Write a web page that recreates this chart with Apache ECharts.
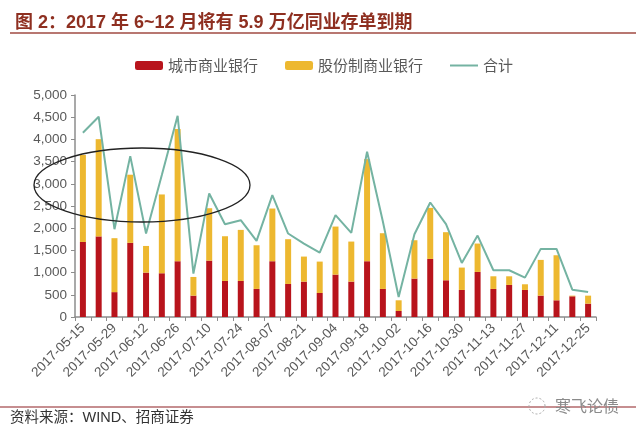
<!DOCTYPE html>
<html>
<head>
<meta charset="utf-8">
<script src="https://cdn.jsdelivr.net/npm/echarts@6/dist/echarts.min.js"></script>
<style>
html,body{margin:0;padding:0;background:#fff;}
#c{width:640px;height:433px;}
</style>
</head>
<body>
<div id="c"></div>
<script>
var categories = ['2017-05-15','2017-05-22','2017-05-29','2017-06-05','2017-06-12','2017-06-19','2017-06-26','2017-07-03','2017-07-10','2017-07-17','2017-07-24','2017-07-31','2017-08-07','2017-08-14','2017-08-21','2017-08-28','2017-09-04','2017-09-11','2017-09-18','2017-09-25','2017-10-02','2017-10-09','2017-10-16','2017-10-23','2017-10-30','2017-11-06','2017-11-13','2017-11-20','2017-11-27','2017-12-04','2017-12-11','2017-12-18','2017-12-25'];
var cityBanks = [1690,1815,560,1670,1000,985,1256,481,1270,812,812,632,1256,744,797,541,955,797,1256,632,135,865,1308,827,609,1015,632,722,609,481,376,466,301];
var jointStock = [1960,2190,1215,1535,600,1775,2977,421,1180,1007,1150,984,1187,1008,564,707,1082,902,2300,1255,241,864,1150,1083,504,639,285,195,128,805,1015,15,180];
var totals = [4150,4510,1977,3624,1880,3200,4533,977,2782,2090,2180,1714,2744,1880,1654,1451,2293,1895,3721,2150,451,1865,2579,2090,1218,1834,1053,1053,887,1534,1534,616,564];
var yTicks = [0,500,1000,1500,2000,2500,3000,3500,4000,4500,5000];

var chart = echarts.init(document.getElementById('c'), null, {renderer:'canvas'});
var gray = '#595959';
var cjk = 'Liberation Sans, "Noto Sans CJK SC", sans-serif';
chart.setOption({
  animation:false,
  backgroundColor:'#fff',
  title:{
    text:'图 2：2017 年 6~12 月将有 5.9 万亿同业存单到期',
    left:10, top:9,
    textStyle:{color:'#8E2F20', fontSize:18, fontWeight:'bold', fontFamily:cjk}
  },
  legend:{
    left:130, top:53,
    itemWidth:28, itemHeight:9, itemGap:27,
    textStyle:{color:gray, fontSize:15, fontFamily:'"Noto Sans CJK SC", sans-serif'},
    data:[{name:'城市商业银行'},{name:'股份制商业银行'},{name:'合计', icon:'path://M0,0L28,0L28,2L0,2Z'}]
  },
  grid:{left:75, right:44, top:95, bottom:116},
  xAxis:{
    type:'category',
    data:categories,
    boundaryGap:true,
    axisLine:{lineStyle:{color:'#8c8c8c', width:1.5}},
    axisTick:{show:true, interval:0, length:4, lineStyle:{color:'#8c8c8c'}},
    axisLabel:{interval:1, rotate:45, color:gray, fontSize:13.5, fontFamily:'Liberation Sans, Arial, sans-serif', margin:9}
  },
  yAxis:{
    type:'value',
    min:0, max:5000, interval:500,
    axisLine:{show:true, lineStyle:{color:'#8c8c8c', width:1.5}},
    axisTick:{show:true, length:4, lineStyle:{color:'#8c8c8c'}},
    splitLine:{show:false},
    axisLabel:{color:gray, fontSize:13.5, fontFamily:'Liberation Sans, Arial, sans-serif', margin:8,
      formatter:function(v){return v.toLocaleString('en-US');}}
  },
  series:[
    {name:'城市商业银行', type:'bar', stack:'s', data:cityBanks, barWidth:6, itemStyle:{color:'#B8141C'}},
    {name:'股份制商业银行', type:'bar', stack:'s', data:jointStock, barWidth:6, itemStyle:{color:'#EDB830'}},
    {name:'合计', type:'line', data:totals, symbol:'none', lineStyle:{color:'#74B3A2', width:2}, itemStyle:{color:'#74B3A2'}, z:3}
  ],
  graphic:[
    {type:'line', shape:{x1:10, y1:33, x2:636, y2:33}, style:{stroke:'#A04A42', lineWidth:1.5}},
    {type:'ellipse', shape:{cx:142, cy:185, rx:108, ry:37}, style:{fill:null, stroke:'#222', lineWidth:1.3}, z:100},
    {type:'line', shape:{x1:0, y1:407, x2:636, y2:407}, style:{stroke:'#8E1F22', lineWidth:1.2}},
    {type:'text', left:10, top:411, style:{text:'资料来源：WIND、招商证券', fill:'#333', fontSize:14.5, fontFamily:cjk}},
    {type:'circle', shape:{cx:537, cy:406, r:8}, style:{fill:null, stroke:'#aaa', lineWidth:1, lineDash:[2,2]}, z:50},
    {type:'text', left:555, top:398, style:{text:'寒飞论债', fill:'#8a8a8a', fontSize:16, fontFamily:'"Noto Sans CJK SC", sans-serif'}, z:50}
  ]
});
</script>
</body>
</html>
